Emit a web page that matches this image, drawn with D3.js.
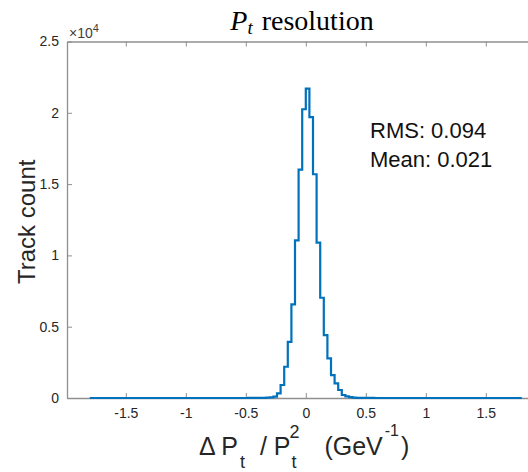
<!DOCTYPE html>
<html>
<head>
<meta charset="utf-8">
<script src="https://cdn.jsdelivr.net/npm/d3@7"></script>
<style>
  body { margin: 0; background: #fff; }
  svg { display: block; }
  text { white-space: pre; }
</style>
</head>
<body>
<div id="vis"></div>
<script>
const FRAME_WIDTH = 528;
const FRAME_HEIGHT = 472;
const MARGINS = {left: 67, top: 41.5, bottom: 74};

// histogram definition: first edge and width of each bin
const BIN_START = -1.8;
const BIN_WIDTH = 0.03;

// counts per bin (120 bins from -1.8 to 1.8)
const COUNTS = [
  0, 0, 0, 0, 0, 0, 0, 0, 0, 0,
  0, 0, 0, 0, 0, 0, 0, 0, 0, 0,
  0, 0, 0, 0, 0, 0, 0, 0, 0, 0,
  0, 0, 0, 0, 0, 0, 0, 0, 0, 0,
  0, 0, 0, 0, 2, 3, 5, 8, 12, 25,
  50, 90, 330, 910, 2190, 3940, 6560, 11060, 16010, 20250,
  21700, 19700, 15690, 10900, 7030, 4410, 2780, 1610, 1030, 560,
  210, 110, 60, 30, 15, 8, 5, 3, 2, 0,
  0, 0, 0, 0, 0, 0, 0, 0, 0, 0,
  0, 0, 0, 0, 0, 0, 0, 0, 0, 0,
  0, 0, 0, 0, 0, 0, 0, 0, 0, 0,
  0, 0, 0, 0, 0, 0, 0, 0, 0, 0
];

const X_LIM = [-1.99, 1.99];
const Y_LIM = [0, 25000];
const X_TICKS = [-1.5, -1, -0.5, 0, 0.5, 1, 1.5];
const Y_TICKS = [0, 5000, 10000, 15000, 20000, 25000];
const STATS = ["RMS: 0.094", "Mean: 0.021"];

const PX_PER_UNIT = 120;
const VIS_WIDTH = (X_LIM[1] - X_LIM[0]) * PX_PER_UNIT;
const VIS_HEIGHT = FRAME_HEIGHT - MARGINS.top - MARGINS.bottom;

const AXIS_COLOR = "#8f8f8f";
const TEXT_COLOR = "#262626";
const LINE_COLOR = "#0072BD";
const SANS = "'Liberation Sans', Arial, sans-serif";

const FRAME = d3.select("#vis")
                .append("svg")
                  .attr("width", FRAME_WIDTH)
                  .attr("height", FRAME_HEIGHT);

const X_SCALE = d3.scaleLinear()
                  .domain(X_LIM)
                  .range([MARGINS.left, MARGINS.left + VIS_WIDTH]);

const Y_SCALE = d3.scaleLinear()
                  .domain(Y_LIM)
                  .range([MARGINS.top + VIS_HEIGHT, MARGINS.top]);

// stair points: left edge of each bin with its count, then the closing edge
let stairs = COUNTS.map((c, i) => [BIN_START + i * BIN_WIDTH, c]);
stairs.push([BIN_START + COUNTS.length * BIN_WIDTH, COUNTS[COUNTS.length - 1]]);

const line = d3.line()
               .x((d) => X_SCALE(d[0]))
               .y((d) => Y_SCALE(d[1]))
               .curve(d3.curveStepAfter);

// bottom axis (ticks point inward)
const xAxis = FRAME.append("g")
      .attr("transform", "translate(0," + Y_SCALE(0) + ")")
      .call(d3.axisBottom(X_SCALE).tickValues(X_TICKS).tickSizeInner(-5).tickSizeOuter(0).tickPadding(10)
              .tickFormat(d3.format("")));

// top axis, no labels
const topAxis = FRAME.append("g")
      .attr("transform", "translate(0," + Y_SCALE(Y_LIM[1]) + ")")
      .call(d3.axisTop(X_SCALE).tickValues(X_TICKS).tickSizeInner(-5).tickSizeOuter(0).tickFormat(""));

// left axis
const yAxis = FRAME.append("g")
      .attr("transform", "translate(" + MARGINS.left + ",0)")
      .call(d3.axisLeft(Y_SCALE).tickValues(Y_TICKS).tickSizeInner(-5).tickSizeOuter(0).tickPadding(8)
              .tickFormat((d) => d3.format("")(d / 10000)));

[xAxis, topAxis, yAxis].forEach((g) => {
  g.select(".domain").attr("stroke", AXIS_COLOR).attr("stroke-width", 1.3);
  g.selectAll(".tick line").attr("stroke", AXIS_COLOR).attr("stroke-width", 1);
  g.selectAll(".tick text")
    .attr("fill", TEXT_COLOR)
    .attr("font-family", SANS)
    .attr("font-size", "14px");
});
xAxis.selectAll(".tick text").text((d) => d < 0 ? "-" + Math.abs(d) : d);

// histogram outline
FRAME.append("path")
     .datum(stairs)
     .attr("d", line)
     .attr("fill", "none")
     .attr("stroke", LINE_COLOR)
     .attr("stroke-width", 2.2)
     .attr("stroke-linejoin", "miter");

// exponent label
const expo = FRAME.append("text")
     .attr("x", MARGINS.left + 2)
     .attr("y", Y_SCALE(Y_LIM[1]) - 4)
     .attr("fill", "#404040")
     .attr("font-family", SANS)
     .attr("font-size", "14px");
expo.append("tspan").text("\u00d710");
expo.append("tspan").attr("dy", -6).attr("font-size", "11px").text("4");

// title
const title = FRAME.append("text")
     .attr("x", 302)
     .attr("y", 30)
     .attr("text-anchor", "middle")
     .attr("fill", "#000")
     .attr("font-family", "'Liberation Serif', 'Times New Roman', serif")
     .attr("font-size", "28px");
title.append("tspan").attr("font-style", "italic").text("P");
title.append("tspan").attr("font-style", "italic").attr("font-size", "19px").attr("dy", 4).text("t");
title.append("tspan").attr("dy", -4).attr("dx", 9).text("resolution");

// stats text
FRAME.selectAll(".stat")
     .data(STATS)
     .enter()
     .append("text")
       .attr("class", "stat")
       .attr("x", 370)
       .attr("y", (d, i) => 138 + i * 28.5)
       .attr("fill", "#111")
       .attr("font-family", SANS)
       .attr("font-size", "22px")
       .text((d) => d);

// y label
FRAME.append("text")
     .attr("transform", "translate(35," + (MARGINS.top + VIS_HEIGHT / 2 + 2) + ") rotate(-90)")
     .attr("text-anchor", "middle")
     .attr("fill", TEXT_COLOR)
     .attr("font-family", SANS)
     .attr("font-size", "24px")
     .text("Track count");

// x label with sub/superscripts (the 2 sits right above the subscript t)
const xl = FRAME.append("text")
     .attr("x", 199)
     .attr("y", 455)
     .attr("fill", TEXT_COLOR)
     .attr("font-family", SANS)
     .attr("font-size", "25px");
xl.append("tspan").text("\u0394 P");
xl.append("tspan").attr("dy", 13).attr("dx", 2).attr("font-size", "18px").text("t");
xl.append("tspan").attr("dy", -13).attr("dx", 8).text(" / P");
xl.append("tspan").attr("dy", 13).attr("dx", 1).attr("font-size", "18px").text("t");
xl.append("tspan").attr("dy", -30).attr("dx", -7).attr("font-size", "18px").text("2");
xl.append("tspan").attr("dy", 17).attr("dx", 11).text("  (GeV");
xl.append("tspan").attr("dy", -19).attr("dx", 2).attr("font-size", "16px").text("-1");
xl.append("tspan").attr("dy", 19).attr("dx", 2).text(")");
</script>
</body>
</html>
